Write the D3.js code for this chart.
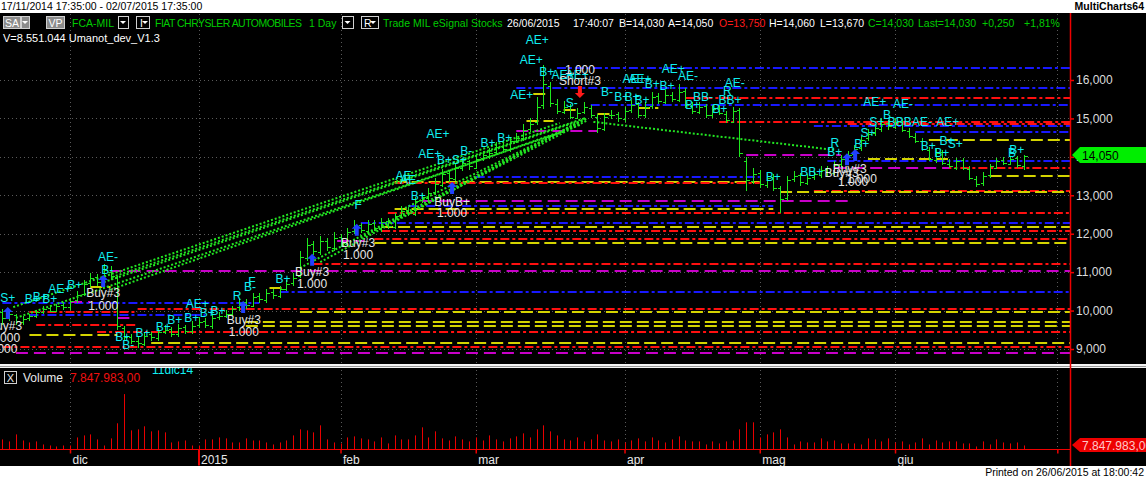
<!DOCTYPE html>
<html><head><meta charset="utf-8">
<script src="https://cdn.jsdelivr.net/npm/d3@7"></script>
<style>
body{margin:0;background:#fff;overflow:hidden}
svg{display:block}
text{font-family:"Liberation Sans",Arial,sans-serif}
</style></head><body>
<svg id="c" width="1146" height="477"></svg>
<script>
// ---------------- DATA ----------------
const opens = [9.95,9.82,9.88,9.70,9.80,9.86,9.96,10.06,10.00,10.14,
10.08,10.28,10.42,10.72,10.88,10.72,11.00,10.85,9.55,9.32,
9.20,9.12,9.38,9.28,9.44,9.52,9.38,9.56,9.46,9.62,
9.72,9.60,9.82,9.86,9.90,10.08,10.22,10.12,10.38,10.28,
10.48,10.38,10.56,10.72,10.90,11.38,11.72,11.52,11.82,11.62,
11.92,11.72,12.08,12.22,12.08,12.28,12.12,12.32,12.18,12.48,
12.62,12.52,12.88,12.92,13.08,13.28,13.58,13.42,13.72,13.88,
13.72,13.98,14.02,14.12,14.28,14.18,14.42,14.48,14.72,14.90,
15.35,15.85,15.38,15.18,15.32,15.02,15.18,15.28,15.05,14.72,
15.08,15.12,14.98,15.22,15.38,15.08,15.32,15.58,15.42,15.62,
15.48,15.72,15.32,15.18,15.32,15.08,15.28,15.12,14.92,15.22,
13.90,13.38,13.58,13.28,13.48,13.18,12.92,13.42,13.52,13.32,
13.48,13.52,13.68,13.58,13.82,13.92,14.08,14.22,14.48,14.62,
14.72,14.88,14.78,14.92,14.68,14.52,14.42,14.18,13.92,14.12,
13.82,13.72,13.92,13.68,13.42,13.32,13.52,13.72,13.92,13.82,
13.98,13.75];
const highs = [10.05,9.98,9.92,9.85,9.92,10.02,10.12,10.15,10.18,10.22,
10.32,10.50,10.80,10.98,10.95,11.20,11.15,10.90,9.60,9.40,
9.30,9.45,9.45,9.55,9.62,9.58,9.65,9.62,9.72,9.82,
9.80,9.88,9.95,10.02,10.12,10.30,10.30,10.45,10.45,10.55,
10.55,10.65,10.80,10.98,11.55,11.90,11.80,11.95,11.90,12.05,
12.00,12.15,12.35,12.28,12.35,12.35,12.42,12.40,12.55,12.72,
12.70,12.95,13.05,13.18,13.45,13.68,13.65,13.82,13.98,13.92,
14.05,14.15,14.22,14.38,14.35,14.52,14.62,14.85,15.00,15.55,
16.40,15.95,15.50,15.45,15.38,15.28,15.42,15.35,15.12,15.15,
15.22,15.18,15.30,15.48,15.42,15.42,15.68,15.65,15.75,15.70,
15.90,15.78,15.42,15.42,15.38,15.35,15.35,15.20,15.30,15.28,
14.00,13.70,13.65,13.55,13.55,13.25,13.50,13.62,13.58,13.55,
13.62,13.75,13.75,13.90,14.05,14.15,14.30,14.55,14.72,14.85,
15.00,14.95,15.02,14.98,14.75,14.62,14.48,14.25,14.20,14.18,
13.95,13.98,13.98,13.75,13.50,13.60,13.82,13.98,14.00,14.02,
14.02,14.06];
const lows = [9.62,9.72,9.62,9.62,9.72,9.80,9.90,9.95,9.95,10.02,
10.02,10.20,10.38,10.62,10.65,10.68,10.80,9.50,9.20,9.12,
9.02,9.08,9.22,9.20,9.38,9.32,9.30,9.40,9.38,9.55,
9.55,9.52,9.75,9.80,9.85,9.98,10.05,10.08,10.20,10.20,
10.30,10.32,10.50,10.65,10.85,11.30,11.45,11.45,11.55,11.55,
11.65,11.65,11.98,12.02,12.02,12.08,12.05,12.12,12.12,12.40,
12.45,12.45,12.80,12.85,13.00,13.22,13.35,13.38,13.62,13.65,
13.68,13.90,13.95,14.05,14.10,14.12,14.35,14.42,14.65,14.82,
15.25,15.30,15.12,15.12,14.98,14.98,15.12,15.02,14.62,14.68,
14.98,14.92,14.92,15.15,15.02,15.02,15.25,15.38,15.38,15.42,
15.42,15.28,15.12,15.12,15.02,15.02,15.08,14.88,14.88,14.00,
13.10,13.30,13.20,13.20,13.10,12.55,12.85,13.35,13.25,13.28,
13.40,13.45,13.50,13.52,13.72,13.85,13.98,14.15,14.40,14.55,
14.65,14.70,14.72,14.65,14.48,14.35,14.15,13.88,13.85,13.80,
13.70,13.65,13.65,13.40,13.22,13.25,13.45,13.68,13.78,13.78,
13.72,13.67];
const closes = [9.80,9.90,9.72,9.78,9.85,9.95,10.05,10.00,10.12,10.10,
10.25,10.40,10.70,10.85,10.75,11.05,10.90,9.60,9.30,9.22,
9.15,9.35,9.30,9.45,9.50,9.40,9.55,9.48,9.60,9.70,
9.62,9.80,9.85,9.92,10.05,10.20,10.15,10.35,10.30,10.45,
10.40,10.55,10.70,10.85,11.40,11.70,11.55,11.80,11.65,11.90,
11.75,12.05,12.20,12.10,12.25,12.15,12.30,12.20,12.45,12.60,
12.55,12.85,12.95,13.05,13.30,13.55,13.45,13.70,13.85,13.75,
13.95,14.05,14.10,14.25,14.20,14.40,14.50,14.70,14.85,15.30,
15.90,15.40,15.20,15.30,15.05,15.15,15.30,15.10,14.75,15.05,
15.10,15.00,15.20,15.35,15.10,15.30,15.55,15.45,15.60,15.50,
15.70,15.35,15.20,15.30,15.10,15.25,15.15,14.95,15.20,14.10,
13.40,13.55,13.30,13.45,13.20,12.90,13.40,13.50,13.35,13.45,
13.55,13.65,13.60,13.80,13.95,14.05,14.20,14.45,14.60,14.75,
14.85,14.80,14.90,14.70,14.55,14.40,14.20,13.95,14.10,13.85,
13.75,13.90,13.70,13.45,13.30,13.50,13.75,13.90,13.85,13.95,
13.80,14.03];
// volume, millions
const volumes = [19.6,15.7,29.4,17.6,13.7,15.7,9.8,7.8,5.9,7.8,
7.8,23.5,27.4,29.4,19.6,7.8,21.6,51.0,107.8,37.2,
39.2,45.1,35.3,37.2,33.3,13.7,15.7,17.6,7.8,7.8,
19.6,19.6,23.5,21.6,13.7,13.7,21.6,17.6,17.6,13.7,
9.8,13.7,17.6,27.4,39.2,37.2,33.3,47.0,19.6,13.7,
11.8,23.5,25.5,21.6,19.6,15.7,23.5,11.8,27.4,19.6,
19.6,27.4,43.1,23.5,35.3,21.6,17.6,25.5,19.6,15.7,
23.5,17.6,27.4,19.6,15.7,21.6,25.5,31.4,23.5,39.2,
47.0,35.3,27.4,19.6,17.6,23.5,15.7,19.6,29.4,17.6,
15.7,19.6,13.7,17.6,21.6,15.7,23.5,17.6,13.7,19.6,
25.5,17.6,15.7,15.7,9.8,15.7,11.8,15.7,17.6,39.2,
52.9,52.9,23.5,29.4,33.3,39.2,23.5,9.8,15.7,13.7,
13.7,21.6,15.7,17.6,11.8,11.8,11.8,9.8,21.6,19.6,
15.7,21.6,13.7,15.7,9.8,13.7,21.6,9.8,17.6,13.7,
15.7,15.7,11.8,11.8,5.9,15.7,9.8,19.6,13.7,11.8,
13.7,7.85];

const priceTicks = [9,10,11,12,13,14,15,16];
const monthIdx = [10,29,50,70,92,112,132,156];
const monthLabels = ["dic","2015","feb","mar","apr","mag","giu",""];
const lastPrice = 14.05;
const lastVolumeLabel = "7.847.983,00";

// indicator levels: price, kind (R red, B blue, Y yellow, M magenta), from bar, to bar
const levelPrice = [16.30,15.78,15.52,15.35,14.92,14.85,14.80,14.65,14.44,13.90,13.70,13.95,14.05,13.71,13.50,13.12,13.08,13.48,13.35,13.32,12.85,12.72,12.64,12.53,12.27,12.17,12.08,11.85,11.77,11.20,11.04,10.48,10.19,10.03,9.97,9.88,9.95,9.71,9.61,9.63,9.43,9.37,9.16,9.04,8.89,
  15.64,14.93,15.22,15.12,15.28,14.67,10.62,10.22,9.81,10.59,11.81];
const levelKind  = ["B","B","R","B","R","R","B","B","Y","B","R","Y","M","M","Y","R","Y","B","Y","R","M","B","Y","R","B","Y","R","R","Y","R","M","B","B","R","R","B","Y","Y","Y","R","R","Y","Y","R","M",
  "Y","Y","Y","Y","Y","M","Y","M","M","Y","M"];
const levelFrom  = [82,76,101,87,106,125,120,135,137,122,139,128,110,123,146,120,115,70,58,58,62,60,58,57,53,56,56,55,55,46,16,41,0,20,4,4,44,36,36,5,14,4,22,0,2,
  78.5,77.5,83,88,94,76,13,10,17,39.5,49.5];
const levelTo    = [160,160,160,160,160,160,160,160,160,160,160,140,124,140,160,160,160,112,112,112,125,114,114,160,160,160,160,160,160,160,160,160,38,160,20,30,160,160,160,20,160,17,160,160,160,
  80.5,81.5,85,90,97,88,16,13,19.5,41.5,53.5];

// trend lines (dotted green): start bar, start price, end bar, end price
const trendFromIdx = [1.6,2.0,15.0,15.9,16.2,44.0,47.0,53.0,59.0,87.4];
const trendFromPx  = [10.09,9.81,10.74,10.54,10.87,11.11,11.26,11.89,12.62,14.91];
const trendToIdx   = [82.4,83.2,84.7,85.4,86.2,85.4,86.2,86.6,86.6,123.1];
const trendToPx    = [14.88,14.67,14.90,14.83,15.01,14.91,15.01,14.96,15.01,14.18];

// signal labels (cyan)
const sigIdx = [0.8,4.4,5.6,7.0,8.5,10.7,15.6,15.5,17.8,18.6,20.8,23.8,25.5,28.0,28.8,30.3,31.9,34.7,36.6,36.9,41.5,52.6,61.5,60.3,59.3,63.2,64.4,66.5,68.6,71.8,74.3,79.1,78.2,80.5,82.9,85.0,76.8,84.2,89.4,91.6,93.1,94.6,93.4,94.3,99.2,101.4,96.1,98.3,103.6,102.1,107.2,108.3,107.6,106.1,114.0,119.7,123.1,123.1,127.1,129.0,133.2,129.3,128.0,130.8,132.7,136.0,139.8,136.9,139.7,140.9,138.9,150.0,149.3];
const sigPx  = [10.33,10.30,10.35,10.30,10.56,10.67,11.39,11.06,9.31,9.10,9.42,9.57,9.76,9.81,10.17,9.94,9.99,10.38,10.61,10.74,10.82,12.75,12.98,13.40,13.50,14.07,14.59,13.92,14.15,14.36,14.49,17.04,16.52,16.21,16.13,16.13,15.61,15.40,15.69,15.56,15.56,15.48,16.03,16.03,16.29,16.10,15.90,15.84,15.56,15.35,15.71,15.92,15.48,15.25,13.48,13.61,14.36,14.13,14.33,15.43,15.38,14.91,14.62,15.09,14.91,14.91,14.91,14.28,14.41,14.33,14.10,14.18,14.10];
const sigText= ["S+","B+","B+","B+","AE+","B+","AE-","B-","B+","B-","B+","B+","B+","B+","AE+","B+","B+","R","B-","F","B+","F","B+","AE-","AE","AE+","AE+","B+S+","B-","B+","B+","AE+","AE+","B+","AE+","AE+","AE+","S-","B-","B+","B+","B+","AE+","AE+","AE+","AE-","B+","B+","BB-","B+","R","AE-","BB+","B+","B+","BB+","R","B+","B+","AE+","AE-","S+","S+","B","BBB","AE-","AE+","B+","B+","S+","B+","B+","B"];

// order labels (white)
const ordIdx = [0.4,0.4,0.0,14.9,14.9,35.7,35.7,45.8,45.8,52.6,52.6,66.5,66.5,85.4,85.4,125.3,125.8,124.1,127.1];
const ordPx  = [9.60,9.29,9.00,10.46,10.12,9.76,9.44,11.00,10.69,11.76,11.45,12.83,12.54,16.26,15.97,13.68,13.35,13.58,13.42];
const ordText= ["Buy#3","1.000","1.000","Buy#3","1.000","Buy#3","1.000","Buy#3","1.000","Buy#3","1.000","BuyB+","1.000","1.000","Short#3","Buy#3","1.000","Buy#3","1.000"];

// arrows
const buyIdx = [0.8,14.9,35.6,45.8,52.4,66.5,124.9,126.1];
const buyPx  = [9.94,10.77,10.09,11.32,12.10,13.19,13.94,14.05];
const sellIdx = [85.4];
const sellPx  = [15.69];

// header quote fields
const quoteText = ["B=14,030","A=14,050","O=13,750","H=14,060","L=13,670","C=14,030","Last=14,030","+0,250","+1,81%"];

// ---------------- DRAW ----------------
const W = 1146, H = 477;
const AXIS_X = 1070;
const svg = d3.select("#c");
const defs = svg.append("defs");
defs.append("clipPath").attr("id","pclip").append("rect").attr("x",0).attr("y",13).attr("width",AXIS_X).attr("height",351);
defs.append("clipPath").attr("id","vclip").append("rect").attr("x",0).attr("y",368).attr("width",AXIS_X).attr("height",98);

svg.append("rect").attr("width",W).attr("height",H).attr("fill","#fff");
svg.append("rect").attr("x",0).attr("y",13).attr("width",W).attr("height",453).attr("fill","#000");

const x = d3.scaleLinear().domain([0,151]).range([2.4,1023.5]);
const y = d3.scaleLinear().domain([9,16]).range([349,80]);
const vy = d3.scaleLinear().domain([0,108]).range([449.5,394]);
const fmtPrice = d => d3.format(".3f")(d).replace(".", ",");
const px = v => Math.round(v) + 0.5;

// gridlines
const grid = svg.append("g");
grid.selectAll("line.h").data(priceTicks).join("line")
  .attr("x1",0).attr("x2",AXIS_X).attr("y1",d=>px(y(d))).attr("y2",d=>px(y(d)))
  .attr("stroke","#5a5a5a").attr("stroke-dasharray","1,3");
grid.selectAll("line.v").data(monthIdx).join("line")
  .attr("x1",d=>px(x(d))).attr("x2",d=>px(x(d))).attr("y1",14).attr("y2",449)
  .attr("stroke","#5a5a5a").attr("stroke-dasharray","1,3");

// price plot
const pg = svg.append("g").attr("clip-path","url(#pclip)");
const kindColor = {R:"#ff1010",B:"#1818ff",Y:"#d4d400",M:"#c800c8"};
const kindDash = {R:"9,3,3,3",B:"9,3,3,3",Y:"12,5",M:"12,6"};
const levels = levelPrice.map((p,i)=>({p,k:levelKind[i],f:levelFrom[i],t:levelTo[i]}));
pg.selectAll("line.lvl").data(levels).join("line")
  .attr("x1",d=>x(d.f)).attr("x2",d=>x(d.t))
  .attr("y1",d=>Math.round(y(d.p))).attr("y2",d=>Math.round(y(d.p)))
  .attr("stroke",d=>kindColor[d.k]).attr("stroke-width",2)
  .attr("stroke-dasharray",d=>kindDash[d.k]);

// trend lines
const trends = trendFromIdx.map((v,i)=>({a:v,ap:trendFromPx[i],b:trendToIdx[i],bp:trendToPx[i]}));
pg.selectAll("line.tr").data(trends).join("line")
  .attr("x1",d=>x(d.a)).attr("y1",d=>y(d.ap)).attr("x2",d=>x(d.b)).attr("y2",d=>y(d.bp))
  .attr("stroke","#22e622").attr("stroke-width",2).attr("stroke-dasharray","2,2");

// OHLC bars
const bars = closes.map((c,i)=>({i,o:opens[i],h:highs[i],l:lows[i],c}));
const bg = pg.append("g").attr("stroke","#1ee81e").attr("stroke-width",1).attr("shape-rendering","crispEdges");
bg.selectAll("line.hl").data(bars).join("line")
  .attr("x1",d=>px(x(d.i))).attr("x2",d=>px(x(d.i)))
  .attr("y1",d=>y(d.h)).attr("y2",d=>y(d.l));
bg.selectAll("line.o").data(bars).join("line")
  .attr("x1",d=>px(x(d.i))-3).attr("x2",d=>px(x(d.i)))
  .attr("y1",d=>px(y(d.o))).attr("y2",d=>px(y(d.o)));
bg.selectAll("line.c").data(bars).join("line")
  .attr("x1",d=>px(x(d.i))).attr("x2",d=>px(x(d.i))+3)
  .attr("y1",d=>px(y(d.c))).attr("y2",d=>px(y(d.c)));

// arrows
const upArrow = (cx,cy)=>`M${cx},${cy-6}L${cx+5},${cy-1}L${cx+2},${cy-1}L${cx+2},${cy+6}L${cx-2},${cy+6}L${cx-2},${cy-1}L${cx-5},${cy-1}Z`;
const dnArrow = (cx,cy)=>`M${cx},${cy+6}L${cx+5},${cy+1}L${cx+2},${cy+1}L${cx+2},${cy-6}L${cx-2},${cy-6}L${cx-2},${cy+1}L${cx-5},${cy+1}Z`;
pg.selectAll("path.buy").data(buyIdx.map((v,i)=>({i:v,p:buyPx[i]}))).join("path")
  .attr("d",d=>upArrow(x(d.i),y(d.p))).attr("fill","#2040ff");
pg.selectAll("path.sell").data(sellIdx.map((v,i)=>({i:v,p:sellPx[i]}))).join("path")
  .attr("d",d=>dnArrow(x(d.i),y(d.p))).attr("fill","#ff1a1a");

// labels
pg.selectAll("text.sig").data(sigText.map((t,i)=>({t,i:sigIdx[i],p:sigPx[i]}))).join("text")
  .attr("x",d=>x(d.i)).attr("y",d=>y(d.p)).attr("dy","0.35em")
  .attr("text-anchor","middle").attr("font-size",12).attr("fill","#10eef0").text(d=>d.t);
pg.selectAll("text.ord").data(ordText.map((t,i)=>({t,i:ordIdx[i],p:ordPx[i]}))).join("text")
  .attr("x",d=>x(d.i)).attr("y",d=>y(d.p)).attr("dy","0.35em")
  .attr("text-anchor","middle").attr("font-size",12).attr("fill","#e6e6e6").text(d=>d.t);

// volume panel
const vg = svg.append("g").attr("clip-path","url(#vclip)");
vg.selectAll("line.vol").data(volumes.map((v,i)=>({i,v}))).join("line")
  .attr("x1",d=>px(x(d.i))).attr("x2",d=>px(x(d.i)))
  .attr("y1",vy(0)).attr("y2",d=>vy(d.v))
  .attr("stroke","#e80000").attr("stroke-width",1);
svg.append("line").attr("x1",0).attr("x2",AXIS_X).attr("y1",449.5).attr("y2",449.5).attr("stroke","#ee0000");

// month axis
const xAxis = d3.axisBottom(x).tickValues(monthIdx).tickFormat((d,i)=>monthLabels[i]).tickSize(4).tickSizeOuter(0);
const xg = svg.append("g").attr("transform","translate(0,449.5)").call(xAxis);
xg.select(".domain").remove();
xg.selectAll(".tick line").attr("stroke","#ee0000").attr("stroke-width",1.5);
xg.selectAll(".tick").filter((d,i)=>monthLabels[i]==="2015").select("line").attr("y2",16).attr("stroke-width",2);
xg.selectAll(".tick text").attr("fill","#e8e8e8").attr("font-size",12).attr("text-anchor","start")
  .attr("dx",2).attr("y",4).attr("dy","0.9em").style("font-family","Liberation Sans, Arial, sans-serif");

// volume header
svg.append("text").attr("x",152).attr("y",374).attr("font-size",12).attr("fill","#10eef0").text("11dic14");
// separator between panels
svg.append("rect").attr("x",0).attr("y",364).attr("width",W).attr("height",4).attr("fill","#f4f4f4");
svg.append("line").attr("x1",0).attr("x2",W).attr("y1",366.5).attr("y2",366.5).attr("stroke","#9a9a9a");
svg.append("rect").attr("x",4.5).attr("y",371.5).attr("width",12).attr("height",12).attr("fill","none").attr("stroke","#d0d0d0");
svg.append("text").attr("x",10.5).attr("y",381.5).attr("text-anchor","middle").attr("font-size",11).attr("fill","#e8e8e8").text("X");
svg.append("text").attr("x",23).attr("y",382).attr("font-size",12).attr("fill","#e8e8e8").text("Volume");
svg.append("text").attr("x",70).attr("y",382).attr("font-size",12).attr("fill","#ee1010").text(lastVolumeLabel);

// right axis
svg.append("line").attr("x1",AXIS_X+0.5).attr("x2",AXIS_X+0.5).attr("y1",13).attr("y2",466).attr("stroke","#ee0000").attr("stroke-width",1.5);
const yAxis = d3.axisRight(y).tickValues(priceTicks).tickFormat(fmtPrice).tickSize(4);
const yg = svg.append("g").attr("transform",`translate(${AXIS_X},0)`).call(yAxis);
yg.select(".domain").remove();
yg.selectAll(".tick line").attr("stroke","#ee0000").attr("stroke-width",1.5);
yg.selectAll(".tick text").attr("fill","#dcdcdc").attr("font-size",12).attr("x",6)
  .style("font-family","Liberation Sans, Arial, sans-serif");

// last price marker
const ly = Math.round(y(lastPrice));
svg.append("path").attr("d",`M${AXIS_X+2},${ly}L${AXIS_X+10},${ly-8}L${W},${ly-8}L${W},${ly+8}L${AXIS_X+10},${ly+8}Z`).attr("fill","#00ee00");
svg.append("text").attr("x",AXIS_X+12).attr("y",ly+4.5).attr("font-size",12).attr("fill","#000").text(fmtPrice(lastPrice));
// last volume marker
const lv = Math.round(vy(volumes[volumes.length-1]));
svg.append("path").attr("d",`M${AXIS_X+2},${lv}L${AXIS_X+10},${lv-7}L${W},${lv-7}L${W},${lv+7}L${AXIS_X+10},${lv+7}Z`).attr("fill","#ee0000");
svg.append("text").attr("x",AXIS_X+12).attr("y",lv+4.5).attr("font-size",12).attr("fill","#ffc8c8").text(lastVolumeLabel);

// bottom strip
svg.append("rect").attr("x",0).attr("y",466).attr("width",W).attr("height",11).attr("fill","#fff");
svg.append("text").attr("x",1144).attr("y",475.5).attr("text-anchor","end").attr("font-size",10.5).attr("fill","#000").text("Printed on 26/06/2015 at 18:00:42");

// top strip
svg.append("rect").attr("x",0).attr("y",0).attr("width",W).attr("height",13).attr("fill","#fff");
svg.append("text").attr("x",1).attr("y",10).attr("font-size",10.5).attr("fill","#000").text("17/11/2014 17:35:00 - 02/07/2015 17:35:00");
svg.append("text").attr("x",1144).attr("y",10).attr("text-anchor","end").attr("font-size",10.5).attr("font-weight","bold").attr("fill","#000").text("MultiCharts64");

// header row 1
const hdr = svg.append("g").attr("font-size",10.5);
function btn(x0,w,label,filled){
  hdr.append("rect").attr("x",x0+0.5).attr("y",16.5).attr("width",w).attr("height",12)
    .attr("fill",filled?"#8c8c8c":"#000").attr("stroke","#d0d0d0");
  if(label) hdr.append("text").attr("x",x0+w/2+0.5).attr("y",26.5).attr("text-anchor","middle").attr("fill","#fff").text(label);
}
function tri(cx){ hdr.append("path").attr("d",`M${cx-3},21L${cx+3},21L${cx},24Z`).attr("fill","#fff"); }
btn(3,17,"SA",true); btn(21,8,"",true); tri(25);
btn(46,18,"VP",true);
hdr.append("text").attr("x",72).attr("y",26.5).attr("fill","#00cc00").text("FCA-MIL");
btn(118,10,"",false); tri(123);
btn(136,13,"",false); hdr.append("text").attr("x",140).attr("y",26.5).attr("fill","#fff").text("I"); tri(145);
hdr.append("text").attr("x",155).attr("y",26.5).attr("fill","#00cc00").attr("textLength",147).text("FIAT CHRYSLER AUTOMOBILES");
hdr.append("text").attr("x",309).attr("y",26.5).attr("fill","#00cc00").text("1 Day");
btn(342,11,"",false); tri(347.5);
btn(361,17,"",false); hdr.append("text").attr("x",364).attr("y",26.5).attr("fill","#fff").text("R"); tri(373);
const hdrGreen = [["Trade",383],["MIL",413],["eSignal",433],["Stocks",471]];
hdrGreen.forEach(([t,xx])=>hdr.append("text").attr("x",xx).attr("y",26.5).attr("fill","#00cc00").text(t));
hdr.append("text").attr("x",507).attr("y",26.5).attr("fill","#fff").text("26/06/2015");
hdr.append("text").attr("x",573).attr("y",26.5).attr("fill","#fff").text("17:40:07");
const qx = [619,668,719,769,820,868,918,982,1024];
const qc = ["#fff","#fff","#ff1a1a","#fff","#fff","#00cc00","#00cc00","#00cc00","#00cc00"];
quoteText.forEach((t,i)=>hdr.append("text").attr("x",qx[i]).attr("y",26.5).attr("fill",qc[i]).text(t));
// header row 2
hdr.append("text").attr("x",3).attr("y",42).attr("fill","#fff").attr("font-size",11).text("V=8.551.044  Umanot_dev_V1.3");
</script>
</body></html>
